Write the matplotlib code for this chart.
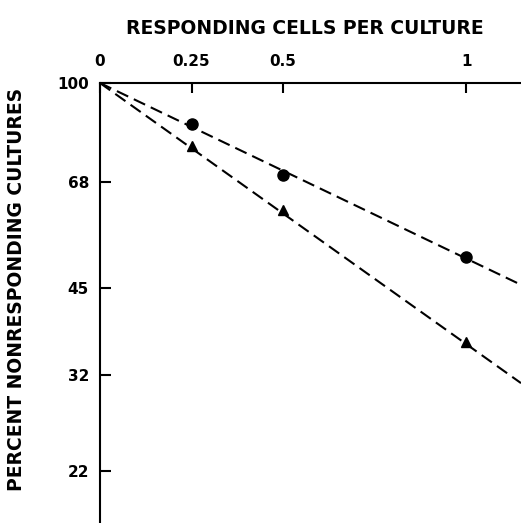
import matplotlib.pyplot as plt

# cells per culture (top axis) and percent nonresponding cultures
cells = [0.25, 0.5, 1.0]
circles = [85.2, 69.8, 50.7]
triangles = [78.2, 60.9, 36.4]

# fitted lines through the origin (100 %)
fit_x = [0, 1.15]
fit_circles = [100, 45.5]
fit_triangles = [100, 31.0]

xticks = [0, 0.25, 0.5, 1]
xticklabels = ['0', '0.25', '0.5', '1']
yticks = [100, 68, 45, 32, 22]

plt.rcParams['font.family'] = ['DejaVu Sans']
plt.rcParams['font.weight'] = 'bold'

fig = plt.figure(figsize=(5.21, 5.23), dpi=100)
ax = fig.add_axes([100 / 521, 0, 421 / 521, 1 - 83 / 523])

dash = (0, (6, 3))
ax.plot(fit_x, fit_circles, color='black', lw=1.5, ls=dash)
ax.plot(fit_x, fit_triangles, color='black', lw=1.5, ls=dash)
ax.plot(cells, circles, 'o', color='black', ms=8)
ax.plot(cells, triangles, '^', color='black', ms=7.5)

ax.set_yscale('log')
ax.set_xlim(0, 1.15)
ax.set_ylim(17.96, 100)

ax.set_yticks(yticks)
ax.set_yticklabels([str(v) for v in yticks])
ax.yaxis.set_minor_locator(plt.NullLocator())
ax.set_xticks(xticks)
ax.set_xticklabels(xticklabels)
ax.xaxis.tick_top()

ax.tick_params(axis='y', direction='in', length=8, width=1.5, pad=8, labelsize=11)
ax.tick_params(axis='x', direction='in', length=7, width=1.5, pad=10, labelsize=11)

for s in ['right', 'bottom']:
    ax.spines[s].set_visible(False)
for s in ['left', 'top']:
    ax.spines[s].set_linewidth(1.5)

fig.text(305 / 521, 1 - 28 / 523, 'RESPONDING CELLS PER CULTURE',
         ha='center', va='center', fontsize=13.5, fontweight='bold')
fig.text(17 / 521, 1 - 289 / 523, 'PERCENT NONRESPONDING CULTURES',
         ha='center', va='center', rotation=90, fontsize=13.5, fontweight='bold')

fig.savefig('out.png', dpi=100)
